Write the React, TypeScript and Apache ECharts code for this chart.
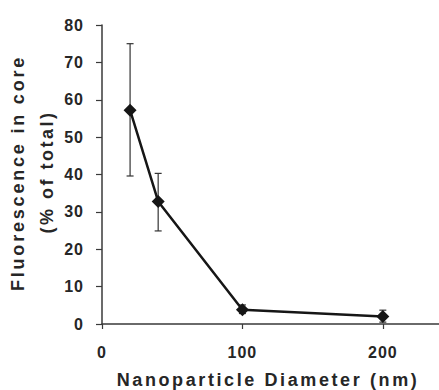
import React, { useEffect, useRef } from "react";
import * as echarts from "echarts";

const diameters = [20, 40, 100, 200];
const fluorescence = [57.2, 32.8, 3.8, 2.0];
const errLow = [39.6, 24.9, 2.8, 0.5];
const errHigh = [75.0, 40.3, 5.1, 3.7];
const xTickValues = [0, 100, 200];

const FONT = "'Liberation Sans', Arial, sans-serif";
const TEXT_COLOR = "#262626";

export default function App() {
  const ref = useRef<HTMLDivElement>(null);
  useEffect(() => {
    if (!ref.current) return;
    const chart = echarts.init(ref.current, undefined, { renderer: "svg" });
    const lineData = diameters.map((d, i) => [d, fluorescence[i]]);
    const errData = diameters.map((d, i) => [d, errLow[i], errHigh[i]]);
    chart.setOption({
      animation: false,
      grid: { left: 102, top: 25, right: 0, bottom: 66, containLabel: false },
      xAxis: {
        type: "value",
        min: 0,
        max: 240,
        interval: 100,
        splitLine: { show: false },
        axisLine: { lineStyle: { color: "#3a3a3a", width: 1.5 } },
        axisTick: { show: true, length: 5, customValues: xTickValues, lineStyle: { color: "#3a3a3a", width: 1.2 } },
        axisLabel: {
          customValues: xTickValues,
          margin: 20,
          fontSize: 16,
          fontWeight: "bold",
          fontFamily: FONT,
          color: TEXT_COLOR,
        },
      },
      yAxis: {
        type: "value",
        min: 0,
        max: 80,
        interval: 10,
        splitLine: { show: false },
        axisLine: { show: true, lineStyle: { color: "#3a3a3a", width: 1.5 } },
        axisTick: { show: true, length: 6, lineStyle: { color: "#3a3a3a", width: 1.2 } },
        axisLabel: {
          margin: 18,
          fontSize: 16,
          fontWeight: "bold",
          fontFamily: FONT,
          color: TEXT_COLOR,
        },
      },
      graphic: [
        {
          type: "text",
          x: 18,
          y: 173,
          rotation: Math.PI / 2,
          style: {
            text: "Fluorescence in core",
            font: `bold 18px ${FONT}`,
            fill: TEXT_COLOR,
            align: "center",
            verticalAlign: "middle",
          },
        },
        {
          type: "text",
          x: 47,
          y: 172,
          rotation: Math.PI / 2,
          style: {
            text: "(% of total)",
            font: `bold 18px ${FONT}`,
            fill: TEXT_COLOR,
            align: "center",
            verticalAlign: "middle",
          },
        },
        {
          type: "text",
          x: 268,
          y: 380,
          style: {
            text: "Nanoparticle Diameter (nm)",
            font: `bold 18px ${FONT}`,
            fill: TEXT_COLOR,
            align: "center",
            verticalAlign: "middle",
          },
        },
      ],
      series: [
        {
          type: "custom",
          z: 1,
          data: errData,
          renderItem: (params: any, api: any) => {
            const x = api.value(0);
            const top = api.coord([x, api.value(2)]);
            const bot = api.coord([x, api.value(1)]);
            const hw = 3.5;
            const style = { stroke: "#333", lineWidth: 1.2 };
            return {
              type: "group",
              children: [
                { type: "line", shape: { x1: top[0], y1: top[1], x2: bot[0], y2: bot[1] }, style },
                { type: "line", shape: { x1: top[0] - hw, y1: top[1], x2: top[0] + hw, y2: top[1] }, style },
                { type: "line", shape: { x1: bot[0] - hw, y1: bot[1], x2: bot[0] + hw, y2: bot[1] }, style },
              ],
            };
          },
        },
        {
          type: "line",
          z: 3,
          data: lineData,
          symbol: "diamond",
          symbolSize: 13,
          lineStyle: { color: "#161616", width: 2.5 },
          itemStyle: { color: "#161616" },
        },
      ],
    });
    const texts = ref.current.querySelectorAll("text");
    texts.forEach((t) => {
      const s = t.textContent || "";
      let sp = 1;
      if (s === "Fluorescence in core") sp = 2.8;
      else if (s === "(% of total)") sp = 2.5;
      else if (s.startsWith("Nanoparticle")) sp = 2.6;
      t.setAttribute("letter-spacing", String(sp));
    });
    return () => chart.dispose();
  }, []);
  return <div ref={ref} style={{ width: 439, height: 390, position: "absolute", left: 0, top: 0 }} />;
}
